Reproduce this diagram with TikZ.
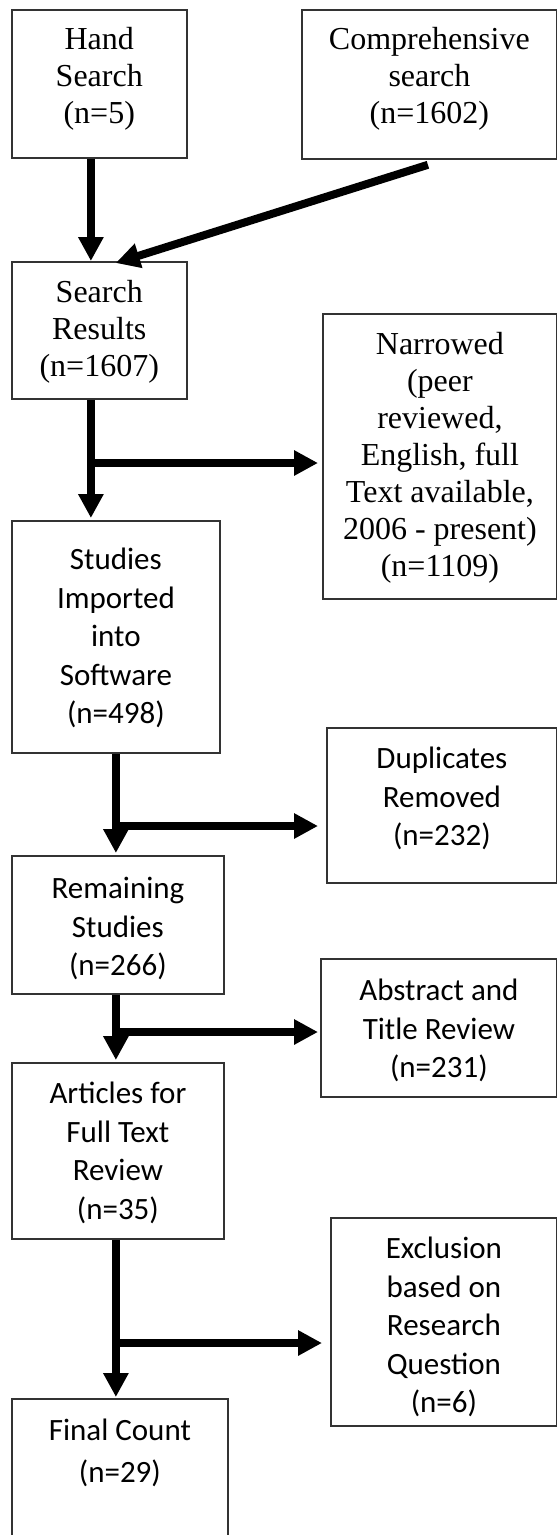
\documentclass[tikz,border=0pt]{standalone}
\usepackage{fontspec}
\setmainfont{Liberation Serif}
\newfontfamily\calibrifont{Carlito}
\usetikzlibrary{arrows.meta}
\newcommand\boxtext[4]{\parbox[c][#2pt][t]{#1pt}{\centering\rule{0pt}{#3pt}#4}}
\begin{document}
\begin{tikzpicture}[x=1pt,y=-1pt,
  box/.style={draw=black!80, line width=1.8pt, inner sep=0pt, anchor=north west, fill=white},
  serifbox/.style={box, font=\fontsize{32}{37}\selectfont},
  sansbox/.style={box, font=\calibrifont\fontsize{31}{38.5}\selectfont},
  arr/.style={line width=8pt, -{Triangle[length=24pt,width=24pt]}}]
\useasboundingbox[fill=white] (0,0) rectangle (557,1535);

% boxes
\node[serifbox] (hand) at (10.7,9) {\boxtext{175.3}{148}{40}{Hand\\Search\\(n=5)}};
\node[serifbox] (comp) at (301,9) {\boxtext{255}{149}{40}{Comprehensive\\search\\(n=1602)}};
\node[serifbox] (sres) at (10.7,261) {\boxtext{175.3}{137}{41}{Search\\Results\\(n=1607)}};
\node[serifbox] (narrow) at (322,313) {\boxtext{234}{285}{41}{Narrowed\\(peer\\reviewed,\\English, full\\Text available,\\2006 - present)\\(n=1109)}};
\node[sansbox] (studies) at (11,520) {\boxtext{208}{232}{49}{Studies\\Imported\\into\\Software\\(n=498)}};
\node[sansbox] (dup) at (326,727) {\boxtext{230}{155}{41}{Duplicates\\Removed\\(n=232)}};
\node[sansbox] (remain) at (11,855) {\boxtext{212}{138}{43}{Remaining\\Studies\\(n=266)}};
\node[sansbox] (abstract) at (320,958) {\boxtext{236}{138}{42}{Abstract and\\Title Review\\(n=231)}};
\node[sansbox] (articles) at (11,1062) {\boxtext{212}{176}{41}{Articles for\\Full Text\\Review\\(n=35)}};
\node[sansbox] (excl) at (330,1217) {\boxtext{226}{208}{41}{Exclusion\\based on\\Research\\Question\\(n=6)}};
\node[sansbox] (final) at (11,1398) {\boxtext{216}{150}{42}{Final Count\\[3pt](n=29)}};

% branch points
\coordinate (b1) at (90,463);
\coordinate (b2) at (115,826);
\coordinate (b3) at (115,1032);
\coordinate (b4) at (115,1343);

% connectors
\draw[arr] ([xshift=-8.35pt]hand.south) -- ([xshift=-8.35pt]sres.north);
\draw[arr] ([xshift=-1.5pt,yshift=-5pt]comp.south) -- ([xshift=16.5pt,yshift=-2pt]sres.north);
\draw[arr] ([xshift=-8.35pt]sres.south) -- ([xshift=-8.35pt,yshift=2pt]sres.south |- studies.north);
\draw[arr, shorten >=4pt] (b1) -- (b1 -| narrow.west);
\draw[arr] (studies.south) -- ([yshift=2pt]studies.south |- remain.north);
\draw[arr, shorten >=8pt] (b2) -- (b2 -| dup.west);
\draw[arr] (remain.south -| studies.south) -- ([yshift=2pt]studies.south |- articles.north);
\draw[arr, shorten >=2pt] (b3) -- (b3 -| abstract.west);
\draw[arr] (articles.south -| studies.south) -- ([yshift=1pt]studies.south |- final.north);
\draw[arr, shorten >=8pt] (b4) -- (b4 -| excl.west);
\end{tikzpicture}
\end{document}
